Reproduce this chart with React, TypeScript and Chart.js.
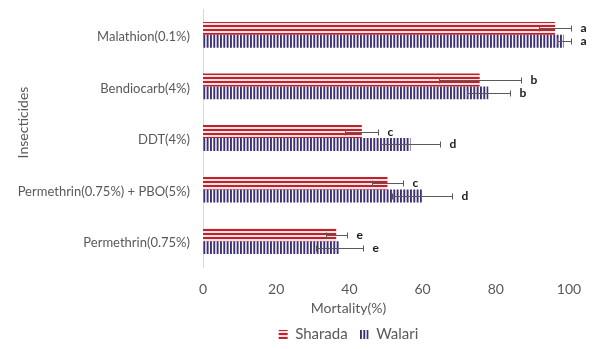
import React, { useEffect, useRef } from 'react';
import { Chart, registerables } from 'chart.js';

Chart.register(...registerables);

// Insecticides tested (top to bottom)
const categories = [
  'Malathion(0.1%)',
  'Bendiocarb(4%)',
  'DDT(4%)',
  'Permethrin(0.75%) + PBO(5%)',
  'Permethrin(0.75%)',
];

// Mortality (%) per site
const sharada = [96.2, 75.6, 43.4, 50.4, 36.4];
const walari = [98.6, 78.0, 56.7, 59.8, 37.3];

// Error (±) per bar
const sharadaErr = [4.3, 11.2, 4.5, 4.3, 2.9];
const walariErr = [2.0, 6.0, 8.0, 8.1, 6.4];

// Significance letters
const sharadaLetters = ['a', 'b', 'c', 'c', 'e'];
const walariLetters = ['a', 'b', 'd', 'd', 'e'];

const xTicks = [0, 20, 40, 60, 80, 100];

const FONT = 'Lato';
const TEXT = '#595959';
const RED = '#c0222b';
const NAVY = '#3d2f74';

function makePattern(kind: 'h' | 'v'): CanvasPattern | string {
  const c = document.createElement('canvas');
  const g = c.getContext('2d');
  if (!g) return kind === 'h' ? RED : NAVY;
  if (kind === 'h') {
    c.width = 1;
    c.height = 4;
    g.fillStyle = '#f8e1e2';
    g.fillRect(0, 0, 1, 4);
    g.fillStyle = RED;
    g.fillRect(0, 1, 1, 2);
  } else {
    c.width = 10;
    c.height = 1;
    g.fillStyle = '#ffffff';
    g.fillRect(0, 0, 10, 1);
    g.fillStyle = NAVY;
    for (let k = 0; k < 3; k++) g.fillRect(k * (10 / 3), 0, 1.9, 1);
  }
  return g.createPattern(c, 'repeat') || (kind === 'h' ? RED : NAVY);
}

const errorBars = {
  id: 'errorBars',
  afterDatasetsDraw(chart: any) {
    const { ctx } = chart;
    const xs = chart.scales.x;
    const sets = [
      { v: sharada, e: sharadaErr, l: sharadaLetters },
      { v: walari, e: walariErr, l: walariLetters },
    ];
    ctx.save();
    sets.forEach((s, di) => {
      const meta = chart.getDatasetMeta(di);
      meta.data.forEach((el: any, i: number) => {
        const y = Math.round(el.y) + 0.5;
        const lo = Math.round(xs.getPixelForValue(s.v[i] - s.e[i])) + 0.5;
        const hi = Math.round(xs.getPixelForValue(s.v[i] + s.e[i])) + 0.5;
        ctx.strokeStyle = '#5a5a5a';
        ctx.lineWidth = 1;
        ctx.beginPath();
        ctx.moveTo(lo, y);
        ctx.lineTo(hi, y);
        ctx.moveTo(lo, y - 3);
        ctx.lineTo(lo, y + 3);
        ctx.moveTo(hi, y - 3);
        ctx.lineTo(hi, y + 3);
        ctx.stroke();
        ctx.fillStyle = '#1a1a1a';
        ctx.font = `bold 12px ${FONT}`;
        ctx.textAlign = 'left';
        ctx.textBaseline = 'middle';
        ctx.fillText(s.l[i], hi + 9, y);
      });
    });
    ctx.restore();
  },
};

// Legend and value-axis title are centred over the band right of the category labels
const LEGEND_LEFT = 128;

const legendShift = {
  id: 'legendShift',
  afterLayout(chart: any) {
    const lg = chart.legend;
    if (!lg) return;
    lg.left = LEGEND_LEFT;
    lg.top += 3;
    lg.bottom += 3;
  },
};

// Axis titles: rotated category title on the left, value title under the ticks
const axisTitles = {
  id: 'axisTitles',
  afterDraw(chart: any) {
    const { ctx, chartArea, legend } = chart;
    ctx.save();
    ctx.fillStyle = TEXT;
    ctx.font = `14px ${FONT}`;
    ctx.textAlign = 'center';
    ctx.textBaseline = 'middle';
    ctx.fillText('Mortality(%)', (legend.left + legend.right) / 2, chartArea.bottom + 41);
    ctx.translate(23, chartArea.top + (chartArea.bottom - chartArea.top) * 0.44);
    ctx.rotate(-Math.PI / 2);
    ctx.fillText('Insecticides', 0, 0);
    ctx.restore();
  },
};

export default function App() {
  const ref = useRef<HTMLCanvasElement | null>(null);

  useEffect(() => {
    if (!ref.current) return;
    const chart = new Chart(ref.current, {
      type: 'bar',
      data: {
        labels: categories,
        datasets: [
          {
            label: 'Sharada',
            data: sharada,
            backgroundColor: makePattern('h') as any,
            borderWidth: 0,
            categoryPercentage: 0.5,
            barPercentage: 1.0,
          },
          {
            label: 'Walari',
            data: walari,
            backgroundColor: makePattern('v') as any,
            borderWidth: 0,
            categoryPercentage: 0.5,
            barPercentage: 1.0,
          },
        ],
      },
      options: {
        indexAxis: 'y',
        animation: false,
        responsive: true,
        maintainAspectRatio: false,
        layout: { padding: { top: 9, right: 26, left: 0, bottom: 0 } },
        scales: {
          x: {
            min: 0,
            max: 100,
            afterBuildTicks: (scale: any) => {
              scale.ticks = xTicks.map((v) => ({ value: v }));
            },
            afterFit: (scale: any) => {
              scale.height = 45;
            },
            grid: { display: false },
            border: { display: false },
            ticks: {
              color: TEXT,
              font: { family: FONT, size: 14 },
              padding: 6,
            },
          },
          y: {
            afterFit: (scale: any) => {
              scale.width = 203;
              scale.paddingTop = 0;
              scale.paddingBottom = 0;
            },
            grid: { display: true, drawOnChartArea: false, drawTicks: false },
            border: { display: true, color: '#d9d9d9', width: 1 },
            ticks: {
              color: TEXT,
              font: { family: FONT, size: 13 },
              padding: 13,
              labelOffset: 2,
            },
          },
        },
        plugins: {
          legend: {
            position: 'bottom',
            labels: {
              color: TEXT,
              font: { family: FONT, size: 15 },
              boxWidth: 9,
              boxHeight: 9,
              padding: 12,
            },
          },
          tooltip: { enabled: false },
        },
      },
      plugins: [legendShift, errorBars, axisTitles],
    });
    return () => chart.destroy();
  }, []);

  return (
    <div style={{ position: 'fixed', left: 0, top: 0, width: 595, height: 349, background: '#fff' }}>
      <canvas ref={ref} />
    </div>
  );
}
